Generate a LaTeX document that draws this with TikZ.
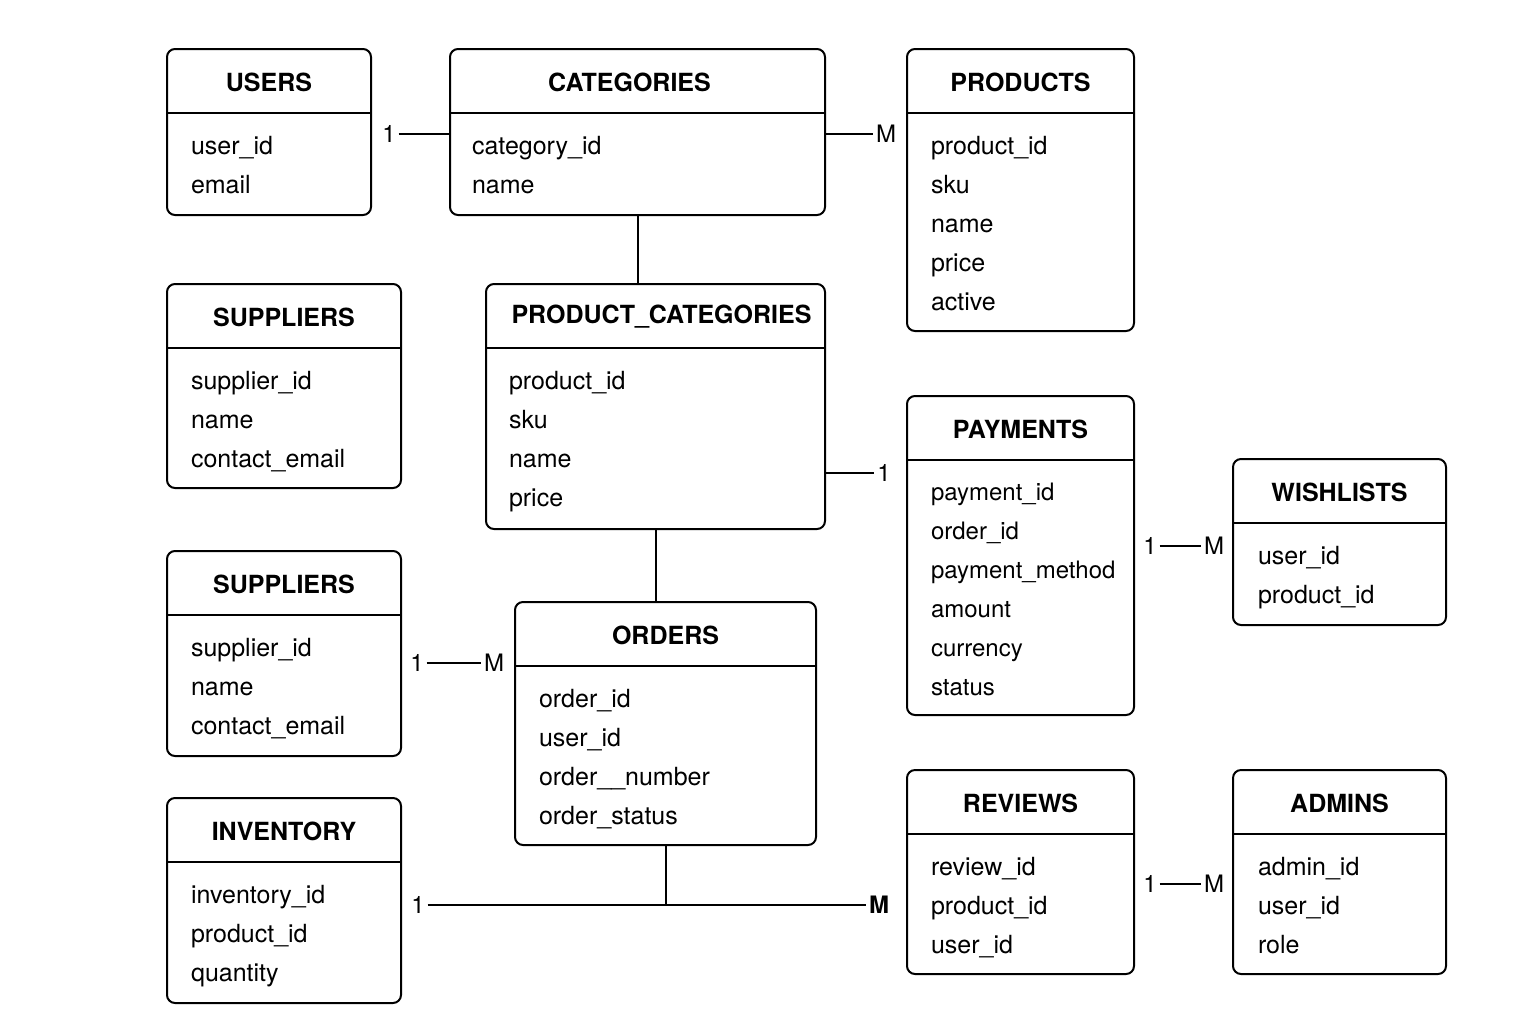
\documentclass[tikz,border=0pt]{standalone}
\usepackage{fontspec}
\setmainfont{TeX Gyre Heros}
\usepackage{tikz}
\usetikzlibrary{shapes,arrows}
\tikzstyle{entity}=[rectangle, draw, line width=1pt, rounded corners=4pt,
        inner sep=0pt]
\tikzstyle{entityname}=[inner sep=0pt, font=\bfseries\fontsize{12.5}{15}\selectfont]
\tikzstyle{attrs}=[inner sep=0pt, anchor=north west, align=left,
        font=\fontsize{12.5}{19.5}\selectfont]
\tikzstyle{mult}=[inner sep=1pt, font=\fontsize{12}{14}\selectfont]

\begin{document}
\begin{tikzpicture}
      [x=0.5pt, y=-0.5pt, line width=1pt]
      \useasboundingbox (0,0) rectangle (1536,1024);
      % Place tables
      \node [entity, minimum width=102pt, minimum height=83pt] (users) at (269,132) {};
      \node [entity, minimum width=187.5pt, minimum height=83pt] (cat) at (637.5,132) {};
      \node [entity, minimum width=113.5pt, minimum height=141pt] (prod) at (1020.5,190) {};
      \node [entity, minimum width=117pt, minimum height=102pt] (sup) at (284,386) {};
      \node [entity, minimum width=169.5pt, minimum height=122.5pt] (pcat) at (655.5,406.5) {};
      \node [entity, minimum width=113.5pt, minimum height=159.5pt] (pay) at (1020.5,555.5) {};
      \node [entity, minimum width=106.5pt, minimum height=83pt] (wish) at (1339.5,542) {};
      \node [entity, minimum width=117pt, minimum height=102.5pt] (sup2) at (284,653.5) {};
      \node [entity, minimum width=150.5pt, minimum height=121.5pt] (ord) at (665.5,723.5) {};
      \node [entity, minimum width=117pt, minimum height=102.5pt] (inv) at (284,900.5) {};
      \node [entity, minimum width=113.5pt, minimum height=102pt] (rev) at (1020.5,872) {};
      \node [entity, minimum width=106.5pt, minimum height=102pt] (adm) at (1339.5,872) {};
      \foreach \t in {users,cat,prod,sup,pcat,pay,wish,sup2,ord,inv,rev,adm}
        \draw ([yshift=-32.5pt]\t.north west) -- ([yshift=-32.5pt]\t.north east);
      % Table names
      \node [entityname] (users-t) at ([yshift=-17pt]users.north) {USERS};
      \node [entityname] (cat-t) at ([xshift=-4pt,yshift=-17pt]cat.north) {CATEGORIES};
      \node [entityname] (prod-t) at ([yshift=-17pt]prod.north) {PRODUCTS};
      \node [entityname] (sup-t) at ([yshift=-17pt]sup.north) {SUPPLIERS};
      \node [entityname] (pcat-t) at ([xshift=3pt,yshift=-17pt]pcat.north) {PRODUCT\_CATEGORIES};
      \node [entityname] (pay-t) at ([yshift=-17pt]pay.north) {PAYMENTS};
      \node [entityname] (wish-t) at ([yshift=-17pt]wish.north) {WISHLISTS};
      \node [entityname] (sup2-t) at ([yshift=-17pt]sup2.north) {SUPPLIERS};
      \node [entityname] (ord-t) at ([yshift=-17pt]ord.north) {ORDERS};
      \node [entityname] (inv-t) at ([yshift=-17pt]inv.north) {INVENTORY};
      \node [entityname] (rev-t) at ([yshift=-17pt]rev.north) {REVIEWS};
      \node [entityname] (adm-t) at ([yshift=-17pt]adm.north) {ADMINS};
      % Fields
      \node [attrs] (users-f) at ([xshift=12pt,yshift=-43.5pt]users.north west) {user\_id\\email};
      \node [attrs] (cat-f) at ([xshift=11pt,yshift=-43.5pt]cat.north west) {category\_id\\name};
      \node [attrs] (prod-f) at ([xshift=12pt,yshift=-43.5pt]prod.north west) {product\_id\\sku\\name\\price\\active};
      \node [attrs] (sup-f) at ([xshift=12pt,yshift=-43.5pt]sup.north west) {supplier\_id\\name\\contact\_email};
      \node [attrs] (pcat-f) at ([xshift=11.5pt,yshift=-43.5pt]pcat.north west) {product\_id\\sku\\name\\price};
      \node [attrs, font=\fontsize{12}{19.5}\selectfont] (pay-f) at ([xshift=12pt,yshift=-43.5pt]pay.north west)
        {payment\_id\\order\_id\\payment\_method\\amount\\currency\\status};
      \node [attrs] (wish-f) at ([xshift=12.5pt,yshift=-43.5pt]wish.north west) {user\_id\\product\_id};
      \node [attrs] (sup2-f) at ([xshift=12pt,yshift=-43.5pt]sup2.north west) {supplier\_id\\name\\contact\_email};
      \node [attrs] (ord-f) at ([xshift=12pt,yshift=-43.5pt]ord.north west) {order\_id\\user\_id\\order\_\_number\\order\_status};
      \node [attrs] (inv-f) at ([xshift=12pt,yshift=-43.5pt]inv.north west) {inventory\_id\\product\_id\\quantity};
      \node [attrs] (rev-f) at ([xshift=12pt,yshift=-43.5pt]rev.north west) {review\_id\\product\_id\\user\_id};
      \node [attrs] (adm-f) at ([xshift=12.5pt,yshift=-43.5pt]adm.north west) {admin\_id\\user\_id\\role};
      % Cardinalities
      \node [mult] (one1) at (389,134) {1};
      \node [mult] (many1) at (886,134) {M};
      \node [mult] (one2) at (884,473) {1};
      \node [mult] (one3) at (417,663) {1};
      \node [mult] (many3) at (494,663) {M};
      \node [mult] (one4) at (418,905) {1};
      \node [mult, font=\bfseries\fontsize{12}{14}\selectfont] (many4) at (879,905) {M};
      \node [mult] (one5) at (1150,546) {1};
      \node [mult] (many5) at (1214,546) {M};
      \node [mult] (one6) at (1150,884) {1};
      \node [mult] (many6) at (1214,884) {M};
      % Draw edges
      \draw (one1.east) -- (one1.east -| cat.west);
      \draw (many1.west -| cat.east) -- (many1.west);
      \draw (cat.south) -- (cat.south |- pcat.north);
      \draw (one2.west -| pcat.east) -- (one2.west);
      \draw (pcat.south) -- (pcat.south |- ord.north);
      \draw (one3.east) -- (many3.west);
      \draw (one4.east) -- (many4.west);
      \draw (ord.south) -- (ord.south |- one4.east);
      \draw (one5.east) -- (many5.west);
      \draw (one6.east) -- (many6.west);
\end{tikzpicture}
\end{document}
